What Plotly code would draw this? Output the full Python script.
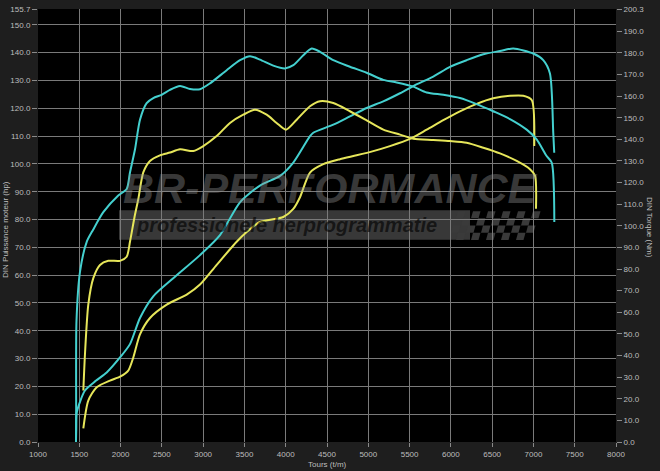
import plotly.graph_objects as go

# ---- data ----
tuned_power_rpm = [1460, 1463, 1470, 1569, 1700, 1832, 1993, 2114, 2235, 2396, 2638, 2962, 3204, 3446, 3688,
                   3931, 4092, 4294, 4334, 4576, 4778, 4980, 5182, 5384, 5545, 5787, 5989, 6191, 6393,
                   6595, 6756, 6998, 7119, 7200, 7240, 7252]
tuned_power_hp = [0.0, 5.0, 10.7, 18.5, 22.0, 25.0, 30.4, 35.2, 44.6, 52.4, 58.9, 67.2, 74.4, 86.2, 92.2,
                  95.7, 100.5, 110.0, 111.2, 114.1, 117.1, 120.1, 122.5, 125.4, 128.0, 131.4, 134.9, 137.3, 139.4,
                  140.6, 141.5, 139.7, 137.3, 132.5, 111.2, 104.0]

tuned_torque_rpm = [1460, 1462, 1466, 1509, 1590, 1666, 1791, 1972, 2074, 2114, 2175, 2235, 2316, 2396, 2498,
                    2598, 2720, 2841, 2962, 3083, 3285, 3446, 3567, 3688, 3849, 3991, 4092, 4213, 4315, 4415,
                    4576, 4778, 4980, 5182, 5344, 5545, 5707, 5908, 6110, 6312, 6513, 6716, 6918, 7039, 7160,
                    7221, 7253]
tuned_torque_nm = [0.0, 13.8, 55.9, 78.8, 92.6, 98.1, 106.3, 114.0, 117.0, 124.7, 135.4, 149.1, 156.8, 159.1, 160.6,
                   162.9, 164.7, 163.3, 163.2, 165.9, 172.0, 176.6, 178.5, 176.9, 174.1, 172.8, 174.3, 178.9, 182.0, 180.5,
                   176.6, 173.6, 170.8, 167.5, 166.3, 164.4, 161.7, 160.6, 159.1, 156.3, 153.0, 149.4, 144.5, 140.0, 132.3,
                   129.3, 101.8]

stock_power_rpm = [1549, 1609, 1711, 1872, 1993, 2093, 2154, 2235, 2356, 2559, 2801, 2962, 3164, 3406, 3527, 3688,
                   3971, 4092, 4173, 4294, 4455, 4657, 4859, 5060, 5262, 5505, 5707, 5908, 6110, 6312, 6513,
                   6716, 6877, 6979, 7010]
stock_power_hp = [4.9, 14.9, 19.7, 22.1, 23.5, 25.7, 30.4, 38.7, 44.6, 49.4, 53.0, 56.6, 63.7, 72.0, 75.5, 79.1,
                  80.9, 83.8, 88.0, 96.9, 99.9, 101.7, 103.1, 104.6, 106.4, 109.0, 112.3, 115.7, 118.9, 121.6, 123.6,
                  124.5, 124.5, 123.0, 106.4]

stock_torque_rpm = [1549, 1569, 1609, 1670, 1751, 1851, 1993, 2074, 2114, 2169, 2215, 2275, 2356, 2477, 2598, 2720,
                    2881, 3002, 3164, 3325, 3486, 3628, 3769, 3890, 4003, 4133, 4294, 4415, 4576, 4778, 4980,
                    5182, 5384, 5545, 5787, 5989, 6191, 6393, 6595, 6797, 6958, 7019, 7031]
stock_torque_nm = [23.8, 40.7, 63.6, 75.8, 81.9, 83.8, 83.8, 85.7, 92.6, 104.1, 112.4, 124.7, 130.0, 132.6, 133.9, 135.4,
                   134.6, 136.9, 141.5, 147.6, 151.4, 153.7, 151.4, 147.6, 144.5, 149.1, 155.3, 157.6, 156.8, 153.0, 148.8,
                   144.5, 142.2, 140.3, 139.7, 139.2, 138.4, 136.1, 133.5, 130.0, 126.2, 123.2, 107.9]

x_ticks = list(range(1000, 8001, 500))
hp_max = 155.7
nm_max = 200.3
hp_ticks = [v * 10.0 for v in range(0, 16)] + [hp_max]
nm_ticks = [v * 10.0 for v in range(0, 20)] + [nm_max]

CYAN = "#44d0cf"
YELLOW = "#e6e65a"
TXT = "#bdbdbd"
FONT = "Liberation Sans, Arial, sans-serif"

fig = go.Figure()
line_kw = dict(shape="spline", smoothing=0.7, width=2)
fig.add_trace(go.Scatter(x=stock_torque_rpm, y=stock_torque_nm, mode="lines", yaxis="y2",
                         line=dict(color=YELLOW, **line_kw), showlegend=False))
fig.add_trace(go.Scatter(x=stock_power_rpm, y=stock_power_hp, mode="lines",
                         line=dict(color=YELLOW, **line_kw), showlegend=False))
fig.add_trace(go.Scatter(x=tuned_torque_rpm, y=tuned_torque_nm, mode="lines", yaxis="y2",
                         line=dict(color=CYAN, **line_kw), showlegend=False))
fig.add_trace(go.Scatter(x=tuned_power_rpm, y=tuned_power_hp, mode="lines",
                         line=dict(color=CYAN, **line_kw), showlegend=False))

# ---- watermark (decoration) ----
L, R, T, B = 38, 616, 5, 442
def dx(px):
    return (px - L) / (R - L)
def dy(py):
    return (B - py) / (B - T)

shapes = [dict(type="rect", xref="x domain", yref="y domain", layer="below",
               x0=dx(119), x1=dx(470), y0=dy(238), y1=dy(208),
               fillcolor="#383838", line=dict(width=0))]
# checkered flag
for r in range(4):
    for c in range(11):
        if (r + c) % 2 == 0:
            x0 = 458 + c * 7.5 - r * 2.5
            y0 = 209 + r * 7.3
            path = "M {a},{b} L {c2},{b} L {d},{e} L {f},{e} Z".format(
                a=dx(x0), b=dy(y0), c2=dx(x0 + 7.5), d=dx(x0 + 5.5), e=dy(y0 + 7.3), f=dx(x0 - 2))
            shapes.append(dict(type="path", xref="x domain", yref="y domain", layer="below",
                               path=path, fillcolor="#3a3a3a", line=dict(width=0)))

annotations = [
    dict(text="BR-PERFORMANCE", xref="paper", yref="paper", x=dx(330), y=dy(186),
         showarrow=False, xanchor="center", yanchor="middle",
         font=dict(family=FONT, size=43, color="rgba(150,150,150,0.38)", weight="bold", style="italic")),
    dict(text="professionele herprogrammatie", xref="paper", yref="paper", x=dx(286), y=dy(223),
         showarrow=False, xanchor="center", yanchor="middle",
         font=dict(family=FONT, size=20, color="rgba(0,0,0,0.62)", weight="bold", style="italic")),
    dict(text="DIN Puissance moteur (hp)", xref="paper", yref="paper", x=dx(6), y=dy(228),
         showarrow=False, textangle=-90, xanchor="center", yanchor="middle",
         font=dict(family=FONT, size=8, color=TXT)),
    dict(text="DIN Torque (Nm)", xref="paper", yref="paper", x=dx(649), y=dy(225),
         showarrow=False, textangle=90, xanchor="center", yanchor="middle",
         font=dict(family=FONT, size=8, color=TXT)),
    dict(text="Tours (t/m)", xref="paper", yref="paper", x=0.5, y=dy(465),
         showarrow=False, xanchor="center", yanchor="middle",
         font=dict(family=FONT, size=8, color=TXT)),
]

grid_col = "#7a7a7a"
fig.update_layout(
    width=660, height=471, autosize=False,
    margin=dict(l=L, r=660 - R, t=T, b=471 - B),
    paper_bgcolor="#1e1e1e", plot_bgcolor="#000000",
    font=dict(family=FONT, size=8, color=TXT),
    shapes=shapes, annotations=annotations,
    xaxis=dict(range=[1000, 8000], tickvals=x_ticks, ticktext=[str(v) for v in x_ticks],
               showgrid=True, gridcolor=grid_col, gridwidth=1, zeroline=False,
               ticks="outside", ticklen=4, tickcolor="#8a8a8a", showline=False,
               tickfont=dict(size=8, color=TXT)),
    yaxis=dict(range=[0, hp_max], tickvals=hp_ticks, ticktext=["%.1f" % v for v in hp_ticks],
               showgrid=True, gridcolor=grid_col, gridwidth=1, zeroline=False,
               ticks="outside", ticklen=5, tickcolor="#8a8a8a", showline=False,
               tickfont=dict(size=8, color=TXT)),
    yaxis2=dict(range=[0, nm_max],
                tickvals=[v for v in nm_ticks if v != 200.0],
                ticktext=["%.1f" % v for v in nm_ticks if v != 200.0],
                overlaying="y", side="right", showgrid=False, zeroline=False,
                ticks="outside", ticklen=5, tickcolor="#8a8a8a", showline=False,
                tickfont=dict(size=8, color=TXT)),
)

fig.write_html("out.html",
               config={"displayModeBar": False},
               post_script="document.body.style.margin='0';document.body.style.padding='0';"
                           "document.body.style.background='#1e1e1e';")
